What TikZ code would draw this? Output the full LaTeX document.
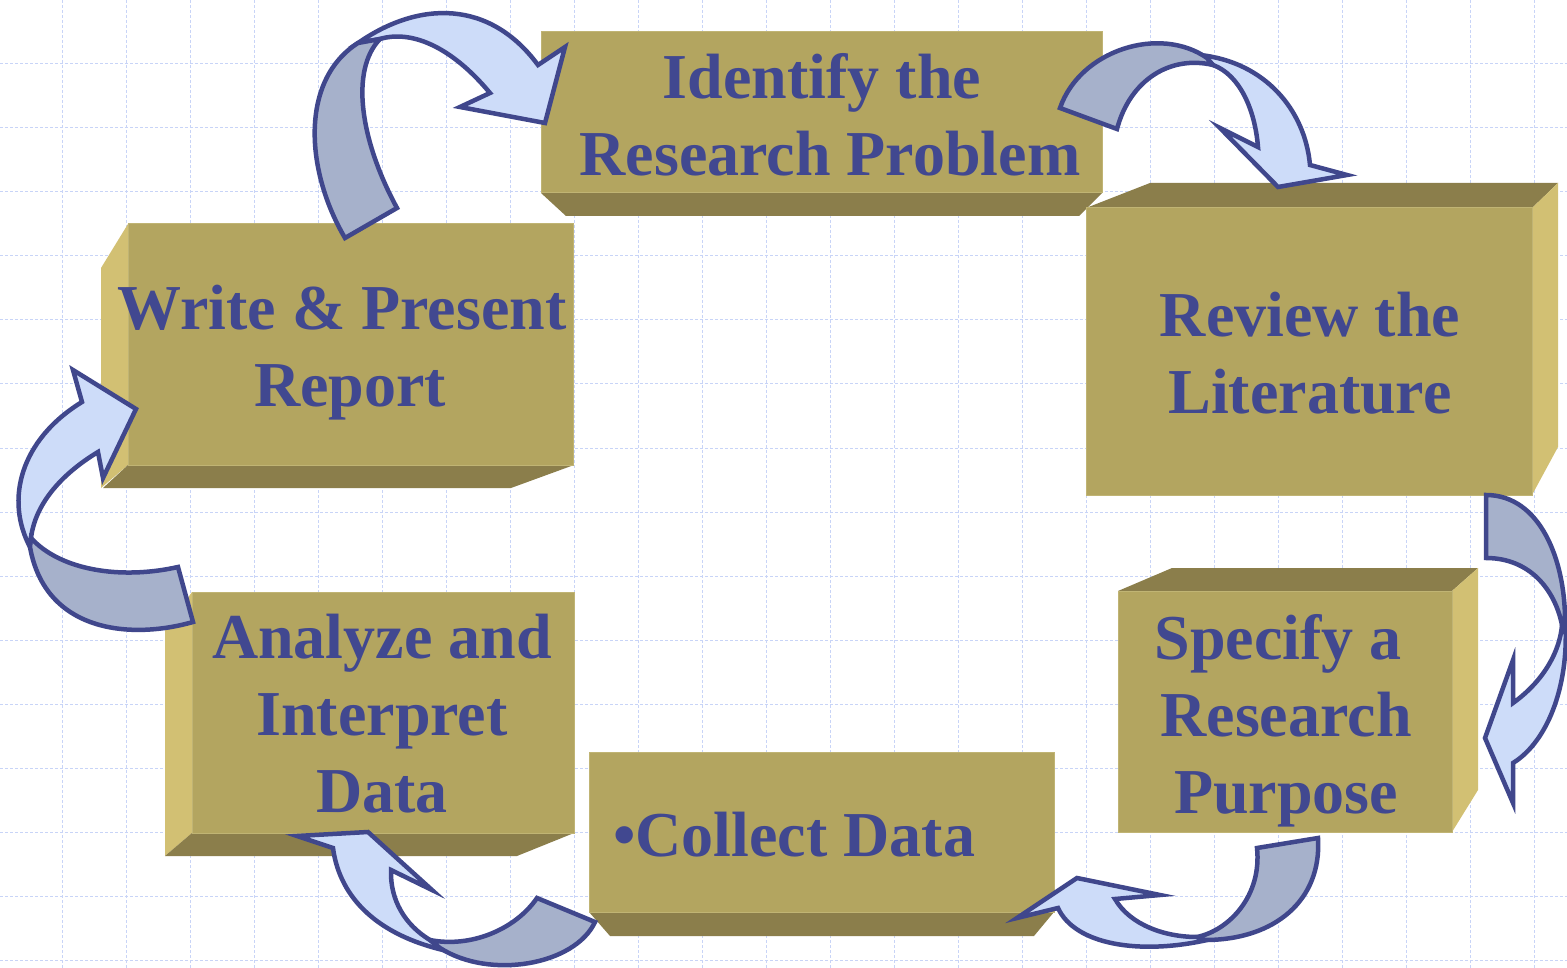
\documentclass[tikz,border=0pt]{standalone}
\usepackage{fontspec}
\setmainfont{Liberation Serif}
\definecolor{gridblue}{RGB}{200,212,247}
\definecolor{boxface}{RGB}{179,165,96}
\definecolor{boxedge}{RGB}{192,180,116}
\definecolor{boxdark}{RGB}{139,126,75}
\definecolor{boxlight}{RGB}{210,192,115}
\definecolor{inkblue}{RGB}{65,72,144}
\definecolor{arrowline}{RGB}{64,71,140}
\definecolor{arrowfront}{RGB}{205,220,249}
\definecolor{arrowback}{RGB}{166,177,203}
\newcommand{\tsp}{\hspace*{0.25em}}
\begin{document}
\begin{tikzpicture}[x=1pt,y=-1pt,
  grid line/.style={draw=gridblue, line width=1pt, dash pattern=on 3pt off 2pt},
  face/.style={fill=boxface, draw=boxedge, line width=1pt},
  label text/.style={text=inkblue, font=\fontsize{64}{77}\selectfont\bfseries,
    align=center, inner sep=0pt},
  ribbon back/.style={fill=arrowback, draw=arrowline, line width=4.5pt, line join=miter},
  ribbon front/.style={fill=arrowfront, draw=arrowline, line width=4.5pt, line join=miter},
]
\useasboundingbox (0,0) rectangle (1567,968);
\fill[white] (0,0) rectangle (1567,968);

% background grid
\foreach \gx in {62,126,...,1534} \draw[grid line] (\gx,0) -- (\gx,968);
\foreach \gy in {0,64,...,960} \draw[grid line] (0,\gy) -- (1567,\gy);

% Identify the Research Problem
\fill[boxdark] (541,193) -- (1102,193) -- (1079,216) -- (566,216) -- cycle;
\path[face] (541,32) rectangle (1102,193);
\node[label text] (identify) at (830,114.5) {Identify the\tsp\\Research Problem};

% Review the Literature
\fill[boxdark] (1086,208) -- (1150,183) -- (1558,183) -- (1532,208) -- cycle;
\fill[boxlight] (1532,208) -- (1558,183) -- (1558,447) -- (1532,495) -- cycle;
\path[face] (1086,208) rectangle (1532,495);
\node[label text] (review) at (1310,353.5) {Review the\\Literature};

% Specify a Research Purpose
\fill[boxdark] (1118,591) -- (1172,568) -- (1478,568) -- (1452,591) -- cycle;
\fill[boxlight] (1452,591) -- (1478,568) -- (1478,790) -- (1452,832) -- cycle;
\path[face] (1118,591) rectangle (1452,832);
\node[label text] (specify) at (1286,720.5) {Specify a\tsp\\Research\tsp\\Purpose};

% Collect Data
\fill[boxdark] (589,912) -- (1054,912) -- (1034,936) -- (610,936) -- cycle;
\path[face] (589,752) rectangle (1054,912);
\node[label text, anchor=base west] (collect) at (613,856) {•Collect Data};

% Analyze and Interpret Data
\fill[boxlight] (165,630) -- (192,592) -- (192,833) -- (165,856) -- cycle;
\fill[boxdark] (192,833) -- (574,833) -- (517,856) -- (165,856) -- cycle;
\path[face] (192,592) rectangle (574,833);
\node[label text] (analyze) at (382,713.5) {Analyze and\\Interpret\\Data};

% Write & Present Report
\fill[boxlight] (101,268) -- (128,224) -- (128,465) -- (101,488) -- cycle;
\fill[boxdark] (128,465) -- (574,465) -- (511,488) -- (103,488) -- cycle;
\path[face] (128,224) rectangle (573,465);
\node[label text] (write) at (350,353) {Write \& Present\tsp\\Report};

% curved ribbon arrows around the cycle
% write -> identify
\path[ribbon front] (358,43) .. controls (420,0) and (490,0) .. (538,65) -- (565,47)
  -- (545,123) -- (460,107) -- (490,93) .. controls (450,45) and (410,30) .. (380,39) -- cycle;
\path[ribbon back] (345,238) .. controls (305,170) and (300,80) .. (358,43) -- (380,39)
  .. controls (350,70) and (360,140) .. (397,208) -- cycle;

% identify -> review
\path[ribbon front] (1200,55) .. controls (1265,62) and (1305,110) .. (1310,165) -- (1347,175)
  -- (1278,187) -- (1220,128) -- (1258,147) .. controls (1255,110) and (1240,75) .. (1213,65) -- cycle;
\path[ribbon back] (1060,108) .. controls (1080,50) and (1160,25) .. (1207,58) -- (1213,65)
  .. controls (1170,55) and (1130,80) .. (1117,129) -- cycle;

% review -> specify
\path[ribbon front] (1565,618) .. controls (1570,680) and (1550,740) .. (1513,763) -- (1513,803)
  -- (1485,738) -- (1513,660) -- (1513,703) .. controls (1545,680) and (1560,650) .. (1562,625) -- cycle;
\path[ribbon back] (1486,495) .. controls (1540,495) and (1565,560) .. (1565,620) -- (1562,625)
  .. controls (1555,590) and (1530,558) .. (1486,558) -- cycle;

% specify -> collect
\path[ribbon front] (1207,940) .. controls (1140,955) and (1075,945) .. (1058,908) -- (1017,918)
  -- (1077,878) -- (1160,895) -- (1115,899) .. controls (1130,925) and (1165,937) .. (1197,937) -- cycle;
\path[ribbon back] (1257,848) -- (1318,838) .. controls (1322,900) and (1275,940) .. (1205,940)
  -- (1197,937) .. controls (1230,930) and (1262,895) .. (1257,848) -- cycle;

% collect -> analyze
\path[ribbon front] (333,848) .. controls (340,900) and (380,935) .. (443,950) -- (430,940)
  .. controls (405,925) and (390,900) .. (391,870) -- (432,890) -- (368,832) -- (297,836) -- cycle;
\path[ribbon back] (537,898) -- (595,922) .. controls (575,965) and (490,980) .. (440,948)
  -- (430,940) .. controls (470,948) and (515,930) .. (537,898) -- cycle;

% analyze -> write
\path[ribbon front] (30,547) .. controls (5,500) and (20,440) .. (82,402) -- (73,370)
  -- (136,409) -- (103,478) -- (98,452) .. controls (60,475) and (35,505) .. (31,538) -- cycle;
\path[ribbon back] (178,567) -- (193,622) .. controls (130,640) and (45,632) .. (30,547)
  -- (31,538) .. controls (60,570) and (120,580) .. (178,567) -- cycle;
\end{tikzpicture}
\end{document}
